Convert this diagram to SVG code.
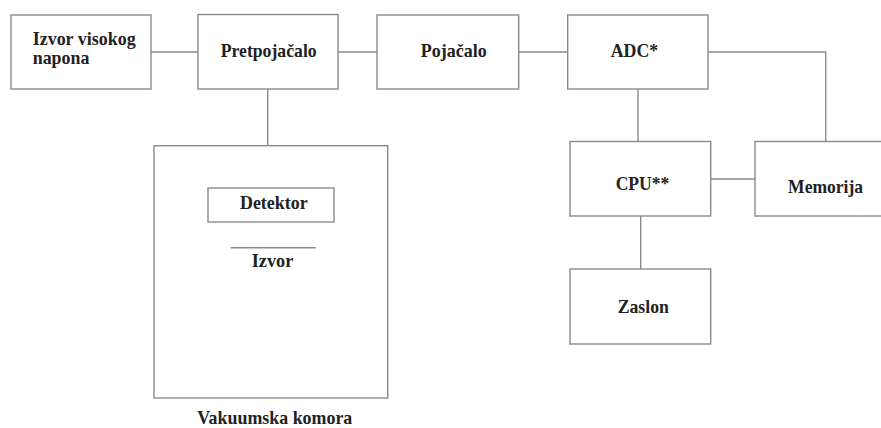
<svg xmlns="http://www.w3.org/2000/svg" width="881" height="428" viewBox="0 0 881 428">
<style>
.b{fill:#fff;stroke:#8a8a8a;stroke-width:1.4}
.c{fill:none;stroke:#8a8a8a;stroke-width:1.4}
text{font-family:"Liberation Serif","Times New Roman",serif;font-weight:bold;font-size:19.5px;fill:#222}
.m{text-anchor:middle}
</style>
<rect width="881" height="428" fill="#fff"/>
<g id="connectors">
<line class="c" x1="151" y1="52" x2="198" y2="52"/>
<line class="c" x1="338" y1="52" x2="377" y2="52"/>
<line class="c" x1="519" y1="52" x2="568" y2="52"/>
<polyline class="c" points="708,52 825.7,52 825.7,141"/>
<line class="c" x1="638" y1="89" x2="638" y2="141"/>
<line class="c" x1="711" y1="179" x2="755" y2="179"/>
<line class="c" x1="640.7" y1="216" x2="640.7" y2="269"/>
<line class="c" x1="267.7" y1="89" x2="267.7" y2="188"/>
</g>
<g id="vakuumska-komora">
<rect class="b" x="154" y="145.7" width="233.7" height="252.3"/>
<text class="m" x="274.8" y="424" textLength="155" lengthAdjust="spacingAndGlyphs">Vakuumska komora</text>
</g>
<g id="izvor-visokog-napona">
<rect class="b" x="11" y="15" width="140" height="74"/>
<text x="32.7" y="45" textLength="103" lengthAdjust="spacingAndGlyphs">Izvor visokog</text>
<text x="32.7" y="64.3" textLength="56.7" lengthAdjust="spacingAndGlyphs">napona</text>
</g>
<g id="pretpojacalo">
<rect class="b" x="198" y="14.5" width="140" height="74.5"/>
<text class="m" x="268.7" y="56.7" textLength="96" lengthAdjust="spacingAndGlyphs">Pretpojačalo</text>
</g>
<g id="pojacalo">
<rect class="b" x="377" y="15" width="141.7" height="74"/>
<text class="m" x="453.7" y="56.7" textLength="66" lengthAdjust="spacingAndGlyphs">Pojačalo</text>
</g>
<g id="adc">
<rect class="b" x="567.7" y="15" width="140.3" height="74"/>
<text class="m" x="634.5" y="56.7" textLength="47.6" lengthAdjust="spacingAndGlyphs">ADC*</text>
</g>
<g id="cpu">
<rect class="b" x="570" y="141.5" width="140.7" height="74.5"/>
<text class="m" x="642.5" y="190" textLength="53.6" lengthAdjust="spacingAndGlyphs">CPU**</text>
</g>
<g id="memorija">
<rect class="b" x="755" y="141.5" width="130" height="74.5"/>
<text class="m" x="825.6" y="193" textLength="75" lengthAdjust="spacingAndGlyphs">Memorija</text>
</g>
<g id="zaslon">
<rect class="b" x="570" y="269" width="140.7" height="75"/>
<text class="m" x="643.3" y="313" textLength="51.3" lengthAdjust="spacingAndGlyphs">Zaslon</text>
</g>
<g id="detektor">
<rect class="b" x="208" y="188" width="126" height="34"/>
<text class="m" x="273.8" y="209.3" textLength="67.7" lengthAdjust="spacingAndGlyphs">Detektor</text>
</g>
<g id="izvor">
<line class="c" x1="230.7" y1="247.7" x2="315.7" y2="247.7"/>
<text class="m" x="272.5" y="267" textLength="41.6" lengthAdjust="spacingAndGlyphs">Izvor</text>
</g>
</svg>
